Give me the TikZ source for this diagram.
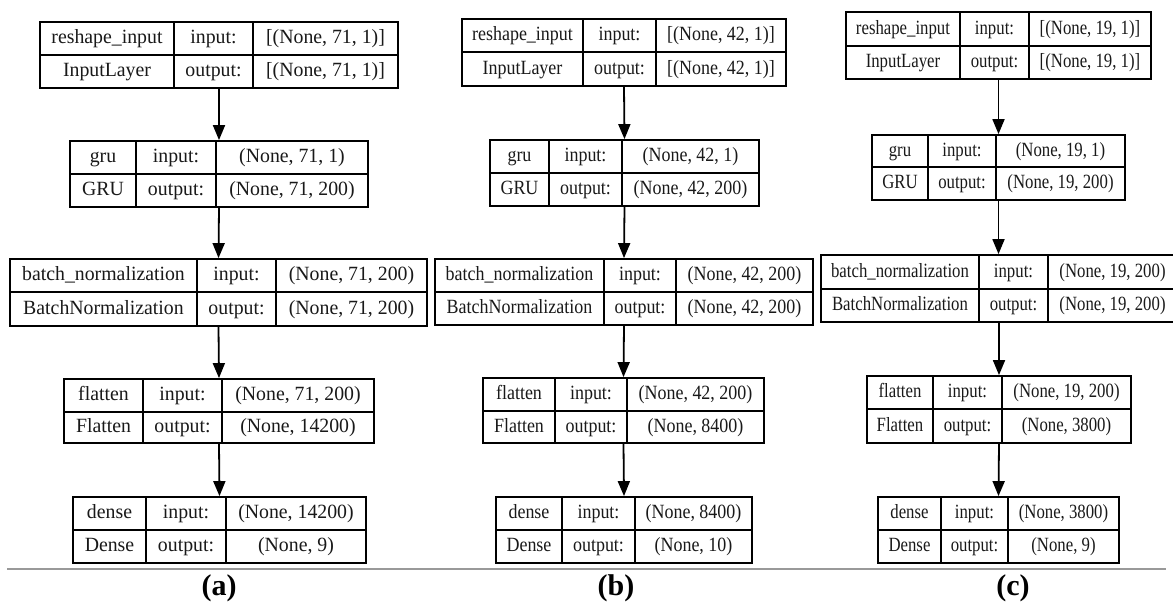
\documentclass[tikz,border=0pt]{standalone}
\usepackage{graphicx}
\usepackage{fontspec}
\setmainfont{Liberation Serif}
\usetikzlibrary{fit,arrows.meta}

\tikzset{
  layer/.style={draw=black, line width=0.9pt, inner sep=0pt},
  cell/.style={draw=black, line width=0.9pt},
  txt/.style={inner sep=0pt, text height=7.4pt, text depth=2.3pt,
              font=\fontsize{10.1}{12}\selectfont, text=black!90},
  flow/.style={draw=black, line width=0.9pt, -{Triangle[width=6pt,length=7.5pt]}},
  rule/.style={draw=black!40, line width=0.6pt},
  caption/.style={inner sep=0pt, font=\fontsize{15}{17}\selectfont\bfseries},
}

% horizontal squeeze of the cell texts, set per panel
\def\cellsx{1}

% #1 name, #2 left, #3 top, #4 right, #5 bottom, #6 row divider, #7/#8 column dividers
\newcommand\layerbox[8]{%
  \coordinate (#1-nw) at (#2,#3);
  \coordinate (#1-se) at (#4,#5);
  \node[layer, fit=(#1-nw)(#1-se)] (#1) {};
  \draw[cell] (#2,#6) -- (#4,#6) (#7,#3) -- (#7,#5) (#8,#3) -- (#8,#5);
  \coordinate (#1-a1) at ({(#2+#7)/2},{(#3+#6)/2});
  \coordinate (#1-a2) at ({(#2+#7)/2},{(#6+#5)/2});
  \coordinate (#1-b1) at ({(#7+#8)/2},{(#3+#6)/2});
  \coordinate (#1-b2) at ({(#7+#8)/2},{(#6+#5)/2});
  \coordinate (#1-c1) at ({(#8+#4)/2},{(#3+#6)/2});
  \coordinate (#1-c2) at ({(#8+#4)/2},{(#6+#5)/2});
}
\newcommand\celltext[1]{\scalebox{\cellsx}[1]{#1}}
% #1 name, #2 layer name, #3 layer class, #4 input shape, #5 output shape
\newcommand\layertext[5]{%
  \node[txt] (#1-name) at (#1-a1) {\celltext{#2}};
  \node[txt] (#1-cls)  at (#1-a2) {\celltext{#3}};
  \node[txt] (#1-in)   at (#1-b1) {\celltext{input:}};
  \node[txt] (#1-out)  at (#1-b2) {\celltext{output:}};
  \node[txt] (#1-ish)  at (#1-c1) {\celltext{#4}};
  \node[txt] (#1-osh)  at (#1-c2) {\celltext{#5}};
}

\begin{document}
\begin{tikzpicture}[x=0.5pt, y=-0.5pt]
\path[use as bounding box, fill=white] (0,0) rectangle (1173,608);
\clip (0,0) rectangle (1173,608);

% ---- (a) ----
\def\cellsx{0.98}
\layerbox{a1}{40}{22}{398}{88}{55}{174}{253}
\layertext{a1}{reshape\_input}{InputLayer}{[(None, 71, 1)]}{[(None, 71, 1)]}
\layerbox{a2}{70}{141}{368}{207}{174}{136}{216}
\layertext{a2}{gru}{GRU}{(None, 71, 1)}{(None, 71, 200)}
\layerbox{a3}{10}{259}{427}{326}{292}{197}{276}
\layertext{a3}{batch\_normalization}{BatchNormalization}{(None, 71, 200)}{(None, 71, 200)}
\layerbox{a4}{64}{379}{374}{443}{412}{143}{222}
\layertext{a4}{flatten}{Flatten}{(None, 71, 200)}{(None, 14200)}
\layerbox{a5}{73}{497}{366}{563}{530}{146}{226}
\layertext{a5}{dense}{Dense}{(None, 14200)}{(None, 9)}
\draw[flow] (a1.south) -- (a2.north);
\draw[flow] (a2.south) -- (a3.north);
\draw[flow] (a3.south) -- (a4.north);
\draw[flow] (a4.south) -- (a5.north);

% ---- (b) ----
\def\cellsx{0.89}
\layerbox{b1}{462}{19}{786}{86}{52}{583}{656}
\layertext{b1}{reshape\_input}{InputLayer}{[(None, 42, 1)]}{[(None, 42, 1)]}
\layerbox{b2}{490}{140}{759}{206}{173}{549}{622}
\layertext{b2}{gru}{GRU}{(None, 42, 1)}{(None, 42, 200)}
\layerbox{b3}{435}{259}{813}{325}{292}{604}{676}
\layertext{b3}{batch\_normalization}{BatchNormalization}{(None, 42, 200)}{(None, 42, 200)}
\layerbox{b4}{483}{378}{764}{443}{411}{555}{627}
\layertext{b4}{flatten}{Flatten}{(None, 42, 200)}{(None, 8400)}
\layerbox{b5}{496}{497}{752}{563}{530}{562}{635}
\layertext{b5}{dense}{Dense}{(None, 8400)}{(None, 10)}
\draw[flow] (b1.south) -- (b2.north);
\draw[flow] (b2.south) -- (b3.north);
\draw[flow] (b3.south) -- (b4.north);
\draw[flow] (b4.south) -- (b5.north);

% ---- (c) ----
\def\cellsx{0.83}
\layerbox{c1}{846}{12}{1151}{79}{46}{960}{1029}
\layertext{c1}{reshape\_input}{InputLayer}{[(None, 19, 1)]}{[(None, 19, 1)]}
\layerbox{c2}{872}{135}{1125}{200}{167}{928}{996}
\layertext{c2}{gru}{GRU}{(None, 19, 1)}{(None, 19, 200)}
\layerbox{c3}{821}{255}{1177}{322}{289}{979}{1048}
\layertext{c3}{batch\_normalization}{BatchNormalization}{(None, 19, 200)}{(None, 19, 200)}
\layerbox{c4}{867}{376}{1131}{443}{409}{933}{1002}
\layertext{c4}{flatten}{Flatten}{(None, 19, 200)}{(None, 3800)}
\layerbox{c5}{878}{497}{1119}{563}{530}{941}{1008}
\layertext{c5}{dense}{Dense}{(None, 3800)}{(None, 9)}
\draw[flow] (c1.south) -- (c2.north);
\draw[flow] (c2.south) -- (c3.north -| c2.south);
\draw[flow] (c3.south -| c4.north) -- (c4.north);
\draw[flow] (c4.south) -- (c5.north);

% ---- separator and captions ----
\draw[rule] (7,569) -- (1166,569);
\node[caption] (capa) at (219,588) {(a)};
\node[caption] (capb) at (616,588) {(b)};
\node[caption] (capc) at (1013,588) {(c)};
\end{tikzpicture}
\end{document}
